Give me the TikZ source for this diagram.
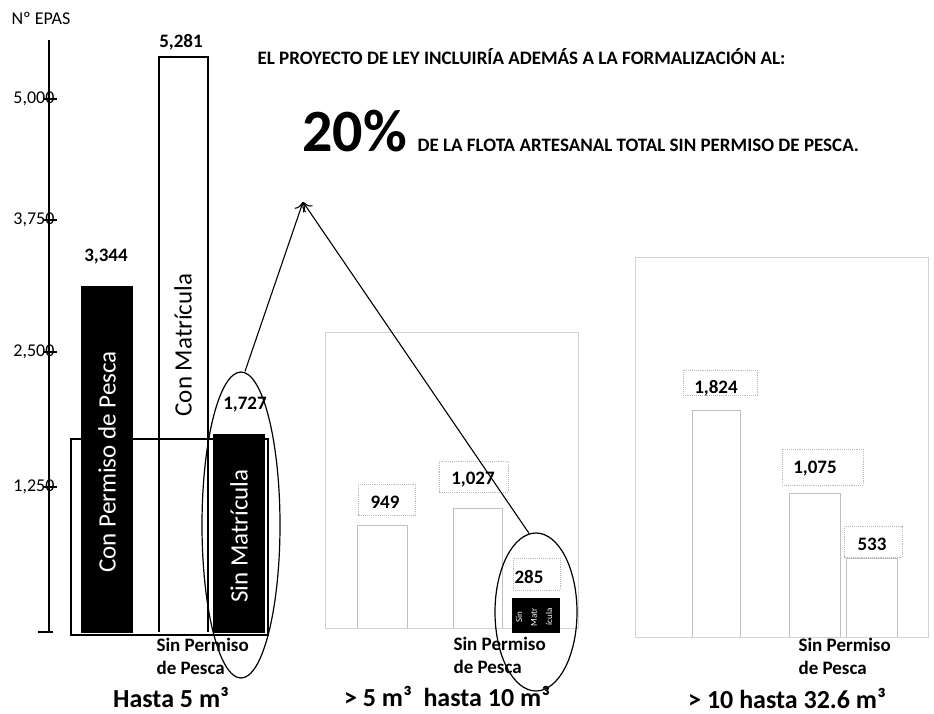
\documentclass[tikz,border=0pt]{standalone}
\usepackage{fontspec}
\setmainfont{Carlito}
\usetikzlibrary{shapes.geometric,arrows.meta}

\tikzset{
  valor/.style={inner sep=0pt,font=\fontsize{19}{21}\selectfont\bfseries},
  eje/.style={inner sep=0pt,anchor=east,font=\fontsize{18}{20}\selectfont},
  rotulo/.style={inner sep=0pt,rotate=90,font=\fontsize{25}{27}\selectfont},
  spp/.style={inner sep=0pt,anchor=west,align=left,font=\fontsize{19}{23}\selectfont\bfseries},
  grupo/.style={inner sep=0pt,font=\fontsize{26}{28}\selectfont\bfseries},
  caja/.style={draw=gray!55,densely dotted,line width=0.9pt},
  barragris/.style={draw=gray!50,line width=0.9pt},
  marco/.style={draw=gray!35,line width=0.9pt},
  ovalo/.style={draw,ellipse,line width=1.2pt,inner sep=0pt}
}

\begin{document}
\begin{tikzpicture}[x=1pt,y=-1pt,line width=1.1pt]
\useasboundingbox (0,0) rectangle (934,714);

%Axis
\node[inner sep=0pt,anchor=west,font=\fontsize{18}{20}\selectfont] (titulo) at (11,18) {Nº EPAS};
\draw (49,40) -- (49,632);
\draw (38,632) -- (53,632);
\foreach \yy/\lab in {99/{5,000},220/{3,750},352/{2,500},487/{1,250}}{
  \draw (43,\yy) -- (57,\yy);
  \node[eje] (t\yy) at (55,\yy) {\lab};
}

%Group: Hasta 5 m3
\draw (71,439) rectangle (268,635);
\fill (81,286) rectangle (133,633);
\draw (159,632) -- (159,57) -- (208,57) -- (208,632);
\fill (213,434) rectangle (265,633);
\node[rotulo,text=white] (cpp) at (107,462) {Con Permiso de Pesca};
\node[rotulo] (cm) at (183,345) {Con Matrícula};
\node[rotulo,text=white] (sm) at (239,536) {Sin Matrícula};
\node[valor] (v3344) at (106,257) {3,344};
\node[valor] (v5281) at (181,42) {5,281};
\node[valor] (v1727) at (245,405) {1,727};
\node[spp] (sppA) at (156,656) {Sin Permiso\\de Pesca};
\node[grupo] (gA) at (171,697) {Hasta 5 m³};
\node[ovalo,minimum width=78,minimum height=306] (ovA) at (241,525) {};

%Group: 5 a 10 m3
\draw[marco] (325,628) -- (325,332) -- (578,332) -- (578,628) -- cycle;
\draw[barragris] (357,628) -- (357,525) -- (407,525) -- (407,628);
\draw[barragris] (453,628) -- (453,508) -- (502,508) -- (502,628);
\draw[caja] (358,484) rectangle (415,515);
\draw[caja] (439,461) rectangle (508,492);
\draw[caja] (513,558) rectangle (560,590);
\node[valor] (v949) at (385,502) {949};
\node[valor] (v1027) at (473,480) {1,027};
\node[valor] (v285) at (529,577) {285};
\fill (512,598) rectangle (560,633);
\foreach \xx/\pal in {519/Sin,534/Matr,549/ícula}{
  \node[inner sep=0pt,rotate=90,text=white,font=\fontsize{9}{10}\selectfont] (sm\xx) at (\xx,617) {\pal};
}
\node[spp] (sppB) at (453,655) {Sin Permiso\\de Pesca};
\node[grupo] (gB) at (447,696) {> 5 m³\ \ hasta 10 m³};
\node[ovalo,minimum width=82,minimum height=158] (ovB) at (536,612) {};

%Group: 10 a 32.6 m3
\draw[marco] (635,637) -- (635,257) -- (928,257) -- (928,637) -- cycle;
\draw[barragris] (692,637) -- (692,410) -- (740,410) -- (740,637);
\draw[barragris] (789,637) -- (789,493) -- (840,493) -- (840,637);
\draw[barragris] (846,637) -- (846,558) -- (897,558) -- (897,637);
\draw[caja] (683,370) rectangle (757,395);
\draw[caja] (782,449) rectangle (863,485);
\draw[caja] (844,526) rectangle (902,557);
\node[valor] (v1824) at (716,388) {1,824};
\node[valor] (v1075) at (815,469) {1,075};
\node[valor] (v533) at (872,544) {533};
\node[spp] (sppC) at (798,656) {Sin Permiso\\de Pesca};
\node[grupo] (gC) at (787,698) {> 10 hasta 32.6 m³};

%Header
\node[inner sep=0pt,anchor=west,font=\fontsize{19}{21}\selectfont\bfseries] (cab) at (257,57) {EL PROYECTO DE LEY INCLUIRÍA ADEMÁS A LA FORMALIZACIÓN AL:};
\node[inner sep=0pt,anchor=base west,font=\fontsize{60}{62}\selectfont\bfseries] (pct) at (302,152) {20\%};
\node[inner sep=0pt,anchor=base west,font=\fontsize{19}{21}\selectfont\bfseries] (flota) at (417,152) {DE LA FLOTA ARTESANAL TOTAL SIN PERMISO DE PESCA.};

%Arrows
\coordinate (punta) at (303,202);
\draw[-{To[length=9,width=12]}] (ovA.north) ++(4,0) -- (punta);
\draw[-{To[length=9,width=12]}] (ovB.95) -- (punta);

\end{tikzpicture}
\end{document}
